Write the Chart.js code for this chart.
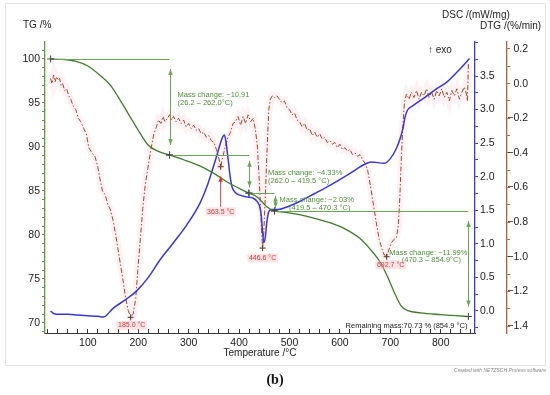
<!DOCTYPE html>
<html>
<head>
<meta charset="utf-8">
<script src="https://cdn.jsdelivr.net/npm/chart.js@4.4.1/dist/chart.umd.min.js"></script>
<style>
  html, body { margin: 0; padding: 0; background: #fff; }
  #wrap { width: 550px; height: 395px; }
</style>
</head>
<body>
<div id="wrap"><canvas id="chart" width="550" height="395"></canvas></div>
<script>
// ==================== DATA ====================
// TG curve (mass %)
const tgTemp = [26.2, 50, 75, 100, 125, 145, 160, 180, 200, 220, 240, 262, 290, 320, 350, 380, 400, 419.5,
  435, 445, 455, 470.3, 490, 520, 550, 580, 610, 640, 660, 680, 695, 710, 722, 735, 760, 800, 830, 854.9];
const tgMass = [100, 99.95, 99.75, 99.2, 98.1, 97.0, 95.7, 93.8, 91.9, 90.2, 89.5, 89.09, 88.55, 87.9, 87.0, 85.9, 85.3, 84.76,
  84.35, 83.8, 83.2, 82.73, 82.6, 82.3, 81.9, 81.4, 80.7, 79.6, 78.4, 76.9, 75.2, 73.2, 71.9, 71.4, 71.15, 70.95, 70.83, 70.73];

// DSC curve (mW/mg)
const dscTemp = [26, 33, 45, 60, 80, 100, 120, 131, 150, 177, 197, 220, 243, 269, 296, 322, 336, 347, 356, 363, 368, 371,
  374, 378, 382, 386, 392, 400, 415, 428, 436, 441, 444, 446.6, 449, 452, 455, 459, 465, 477, 495, 517, 550, 582, 620,
  650, 662, 688, 700, 712, 720, 725, 729, 734, 745, 770, 790, 812, 835, 857];
const dscValue = [0.0, -0.04, -0.05, -0.05, -0.06, -0.07, -0.08, -0.09, 0.04, 0.18, 0.30, 0.50, 0.76, 1.01, 1.28, 1.60, 1.85, 2.10, 2.32, 2.50, 2.60, 2.62,
  2.52, 2.28, 2.02, 1.85, 1.77, 1.73, 1.70, 1.68, 1.63, 1.55, 1.42, 1.18, 1.02, 1.10, 1.32, 1.48, 1.51, 1.51, 1.55, 1.62, 1.75, 1.88, 2.05,
  2.19, 2.22, 2.20, 2.27, 2.42, 2.58, 2.72, 2.88, 2.99, 3.06, 3.19, 3.30, 3.41, 3.58, 3.76];

// DTG curve (%/min)
const dtgTemp = [26, 29, 32, 35, 38, 41, 44, 47, 50, 54, 58, 62, 66, 71, 76, 81, 86, 92, 97, 102, 108, 114, 119, 124, 129,
  134, 140, 145, 150, 155, 160, 165, 170, 175, 180, 185, 190, 195, 199, 204, 209, 214, 219, 225, 231, 236, 240, 245, 249,
  253, 258, 262, 266, 270, 275, 280, 285, 290, 295, 300, 305, 310, 315, 320, 325, 330, 335, 340, 345, 350, 355, 359, 363.5,
  368, 373, 378, 383, 388, 393, 398, 403, 408, 413, 418, 423, 428, 432, 436, 439, 442, 444.5, 446.6, 449, 451, 453, 455,
  457, 459, 462, 466, 470, 475, 480, 485, 490, 495, 500, 505, 510, 515, 520, 525, 530, 535, 540, 545, 550, 555, 560, 565,
  570, 575, 580, 585, 590, 595, 600, 605, 610, 615, 620, 625, 630, 635, 640, 645, 650, 655, 660, 666, 672, 678, 684, 688,
  692.7, 697, 702, 707, 712, 716, 719, 722, 725, 728, 732, 737, 742, 747, 752, 757, 762, 767, 772, 777, 782, 787, 792, 797,
  802, 807, 812, 817, 822, 827, 832, 837, 842, 847, 851, 853, 855];
const dtgRate = [0.03, 0.00, 0.05, 0.01, 0.04, 0.02, 0.03, -0.01, 0.00, -0.04, -0.03, -0.07, -0.09, -0.13, -0.15, -0.20, -0.22, -0.26, -0.29, -0.37, -0.40, -0.42, -0.47, -0.55, -0.62,
  -0.64, -0.70, -0.73, -0.79, -0.87, -0.96, -1.05, -1.14, -1.24, -1.31, -1.35, -1.33, -1.24, -1.08, -0.90, -0.72, -0.58, -0.49, -0.38, -0.29, -0.25, -0.21, -0.23, -0.19,
  -0.22, -0.20, -0.18, -0.21, -0.19, -0.22, -0.20, -0.23, -0.21, -0.25, -0.23, -0.26, -0.24, -0.27, -0.26, -0.29, -0.28, -0.31, -0.30, -0.33, -0.34, -0.38, -0.42, -0.48,
  -0.42, -0.36, -0.31, -0.28, -0.23, -0.22, -0.19, -0.24, -0.19, -0.23, -0.18, -0.22, -0.20, -0.26, -0.35, -0.50, -0.68, -0.85, -0.95, -0.86, -0.72, -0.58, -0.42,
  -0.28, -0.15, -0.09, -0.07, -0.08, -0.07, -0.09, -0.11, -0.10, -0.14, -0.15, -0.18, -0.17, -0.21, -0.22, -0.25, -0.23, -0.27, -0.26, -0.30, -0.28, -0.31, -0.29, -0.32,
  -0.31, -0.34, -0.33, -0.35, -0.34, -0.37, -0.35, -0.38, -0.37, -0.39, -0.38, -0.41, -0.40, -0.42, -0.41, -0.44, -0.46, -0.50, -0.58, -0.69, -0.80, -0.90, -0.96, -0.99,
  -1.00, -0.96, -0.92, -0.90, -0.89, -0.82, -0.65, -0.42, -0.24, -0.11, -0.06, -0.09, -0.05, -0.08, -0.04, -0.09, -0.05, -0.07, -0.03, -0.08, -0.05, -0.09, -0.04, -0.07,
  -0.03, -0.08, -0.05, -0.10, -0.04, -0.07, -0.03, -0.09, -0.05, -0.02, -0.06, -0.10, 0.12];

// axis tick labels
const xTickLabels = [100, 200, 300, 400, 500, 600, 700, 800];
const tgTickLabels = [70, 75, 80, 85, 90, 95, 100];
const dscTickLabels = [0, 0.5, 1.0, 1.5, 2.0, 2.5, 3.0, 3.5];
const dtgTickLabels = [-1.4, -1.2, -1.0, -0.8, -0.6, -0.4, -0.2, 0.0, 0.2];

// mass change steps
const stepStart = [26.2, 262.0, 419.5, 470.3];
const stepEnd = [262.0, 419.5, 470.3, 854.9];
const stepMassStart = [100, 89.09, 84.76, 82.73];
const stepMassEnd = [89.09, 84.76, 82.73, 70.73];
const stepText = ['Mass change: \u221210.91', 'Mass change: \u22124.33%', 'Mass change: \u22122.03%', 'Mass change: \u221211.99%'];
const stepRange = ['(26.2 \u2013 262.0\u00b0C)', '(262.0 \u2013 419.5 \u00b0C)', '(419.5 \u2013 470.3 \u00b0C)', '(470.3 \u2013 854.9\u00b0C)'];

// DTG peaks
const peakTemp = [185.0, 363.5, 446.6, 692.7];
const peakRate = [-1.35, -0.48, -0.95, -1.00];

const remainingMass = 70.73;
const remainingTemp = 854.9;

// ==================== HELPERS ====================
const zip = (xs, ys) => xs.map((x, i) => ({ x: x, y: ys[i] }));
const isIn = (list, v) => list.some(m => Math.abs(m - v) < 1e-6);
const minus = s => s.replace('-', '\u2212');

const green = '#3f7d2c';
const annoGreen = '#6aa558';
const blue = '#3838d4';
const brown = '#9a4a2a';
const peakRed = '#c8403a';

function cross(ctx, x, y, s) {
    ctx.beginPath();
    ctx.moveTo(x - s, y); ctx.lineTo(x + s, y);
    ctx.moveTo(x, y - s); ctx.lineTo(x, y + s);
    ctx.stroke();
}

function arrowHead(ctx, x, y, dir) {
    ctx.beginPath();
    ctx.moveTo(x, y);
    ctx.lineTo(x - 2.2, y - dir * 6);
    ctx.lineTo(x + 2.2, y - dir * 6);
    ctx.closePath();
    ctx.fill();
}

function tag(ctx, text, cx, cy) {
    const w = ctx.measureText(text).width;
    ctx.fillStyle = 'rgba(255,185,195,0.4)';
    ctx.fillRect(cx - w / 2 - 1.5, cy - 4.5, w + 3, 9);
    ctx.fillStyle = peakRed;
    ctx.fillText(text, cx, cy);
}

// label offsets for each step text: [dx, dy of first line, align]
const stepLabelPos = [[8, -12, 'left'], [19, -1, 'left'], [5, -2, 'left'], [-1, -11, 'right']];
// peak label offsets: [dx, dy]
const peakLabelPos = [[1, 8], [0, 45], [0, 10], [4, 8]];

// ==================== ANNOTATIONS ====================
const annotations = {
    id: 'annotations',
    beforeDraw(chart) {
        const ctx = chart.ctx;
        ctx.save();
        ctx.fillStyle = '#fff';
        ctx.fillRect(0, 0, chart.width, chart.height);
        ctx.strokeStyle = '#e4e4e4';
        ctx.lineWidth = 1;
        ctx.strokeRect(5.5, 3.5, 540, 362);
        ctx.restore();
    },
    afterDatasetsDraw(chart) {
        const ctx = chart.ctx;
        const x = chart.scales.x, yTG = chart.scales.yTG, yDTG = chart.scales.yDTG;
        const area = chart.chartArea;
        ctx.save();

        // titles
        ctx.fillStyle = '#222';
        ctx.font = '10px "Liberation Sans", Arial, sans-serif';
        ctx.textBaseline = 'middle';
        ctx.textAlign = 'left';
        ctx.fillText('TG /%', 23, 25);
        ctx.fillText('DSC /(mW/mg)', 442, 15);
        ctx.fillText('DTG /(%/min)', 480, 26);
        ctx.fillText('\u2191 exo', 428, 50);
        ctx.textAlign = 'center';
        ctx.fillText('Temperature /\u00b0C', (area.left + area.right) / 2, area.bottom + 20);

        // mass change steps
        ctx.lineWidth = 1;
        for (let i = 0; i < stepStart.length; i++) {
            const x1 = x.getPixelForValue(stepStart[i]);
            const x2 = x.getPixelForValue(stepEnd[i]);
            const y1 = yTG.getPixelForValue(stepMassStart[i]);
            const y2 = yTG.getPixelForValue(stepMassEnd[i]);
            ctx.strokeStyle = annoGreen;
            ctx.fillStyle = annoGreen;
            ctx.beginPath();
            ctx.moveTo(x1, Math.round(y1) + 0.5);
            ctx.lineTo(x2, Math.round(y1) + 0.5);
            ctx.stroke();
            const inset = Math.min(10, (y2 - y1) * 0.15);
            const ax = Math.round(x2) + 0.5;
            ctx.beginPath();
            ctx.moveTo(ax, y1 + inset);
            ctx.lineTo(ax, y2 - inset);
            ctx.stroke();
            arrowHead(ctx, ax, y1 + inset, -1);
            arrowHead(ctx, ax, y2 - inset, 1);
            ctx.strokeStyle = '#444';
            cross(ctx, x1, y1, 3.5);
            cross(ctx, x2, y2, 3.5);

            const [dx, dy, align] = stepLabelPos[i];
            const mid = (y1 + y2) / 2;
            ctx.font = '7.5px "Liberation Sans", Arial, sans-serif';
            ctx.fillStyle = '#4f8f3a';
            const w1 = ctx.measureText(stepText[i]).width;
            const left = align === 'left' ? x2 + dx : x2 + dx - w1;
            ctx.textAlign = 'left';
            ctx.fillText(stepText[i], left, mid + dy);
            if (i >= 2) {
                ctx.textAlign = 'center';
                ctx.fillText(stepRange[i], left + w1 / 2 + 3, mid + dy + 7.5);
            } else {
                ctx.fillText(stepRange[i], left, mid + dy + 7.5);
            }
        }

        // remaining mass
        ctx.fillStyle = '#222';
        ctx.textAlign = 'right';
        ctx.font = '7.5px "Liberation Sans", Arial, sans-serif';
        ctx.fillText('Remaining mass:' + remainingMass.toFixed(2) + ' % (' + remainingTemp.toFixed(1) + ' \u00b0C)',
            x.getPixelForValue(remainingTemp) - 1, yTG.getPixelForValue(remainingMass) + 9);

        // DTG peaks
        ctx.textAlign = 'center';
        ctx.font = '7px "Liberation Sans", Arial, sans-serif';
        for (let i = 0; i < peakTemp.length; i++) {
            const px = x.getPixelForValue(peakTemp[i]);
            const py = yDTG.getPixelForValue(peakRate[i]);
            const [dx, dy] = peakLabelPos[i];
            ctx.strokeStyle = '#5a3020';
            cross(ctx, px, py, 3);
            if (dy > 20) {
                ctx.strokeStyle = peakRed;
                ctx.fillStyle = peakRed;
                ctx.beginPath();
                ctx.moveTo(px + dx, py + 10);
                ctx.lineTo(px + dx, py + dy - 5);
                ctx.stroke();
                arrowHead(ctx, px + dx, py + 9, -1);
            }
            tag(ctx, peakTemp[i].toFixed(1) + ' \u00b0C', px + dx, py + dy);
        }

        // caption
        ctx.fillStyle = '#111';
        ctx.textAlign = 'center';
        ctx.font = 'bold 14px "Liberation Serif", "Times New Roman", serif';
        ctx.fillText('(b)', 275, 380);
        ctx.fillStyle = '#888';
        ctx.textAlign = 'right';
        ctx.font = 'italic 5px "Liberation Sans", Arial, sans-serif';
        ctx.fillText('Created with NETZSCH Proteus software', 546, 371);
        ctx.restore();
    }
};

// ==================== CHART ====================
Chart.defaults.font.family = '"Liberation Sans", Arial, sans-serif';
Chart.defaults.font.size = 10.5;
Chart.defaults.color = '#222';

const fixSize = (w, h) => scale => {
    if (w) scale.width = w;
    if (h) scale.height = h;
};

new Chart(document.getElementById('chart'), {
    type: 'line',
    data: {
        datasets: [
            { label: 'TG', data: zip(tgTemp, tgMass), yAxisID: 'yTG', borderColor: green, borderWidth: 1.3,
              cubicInterpolationMode: 'monotone', pointRadius: 0, order: 1 },
            { label: 'DSC', data: zip(dscTemp, dscValue), yAxisID: 'yDSC', borderColor: blue, borderWidth: 1.5,
              cubicInterpolationMode: 'monotone', pointRadius: 0, order: 2 },
            { label: 'DTG', data: zip(dtgTemp, dtgRate), yAxisID: 'yDTG', borderColor: brown, borderWidth: 1,
              borderDash: [5, 2, 1.5, 2], tension: 0, pointRadius: 0, order: 3 },
            { label: 'DTG band', data: zip(dtgTemp, dtgRate), yAxisID: 'yDTG', borderColor: 'rgba(255,180,195,0.18)',
              borderWidth: 7, tension: 0, pointRadius: 0, order: 9 }
        ]
    },
    options: {
        responsive: false,
        animation: false,
        devicePixelRatio: 1,
        layout: { padding: { left: 5, right: 22, top: 42, bottom: 29 } },
        plugins: { legend: { display: false }, tooltip: { enabled: false } },
        scales: {
            x: {
                type: 'linear', position: 'bottom', min: 15, max: 868,
                afterFit: fixSize(null, 33),
                border: { color: '#333', width: 1 },
                grid: { drawOnChartArea: false, tickLength: -4, color: '#333' },
                ticks: { stepSize: 20, includeBounds: false, autoSkip: false, maxRotation: 0, padding: 8,
                         callback: v => isIn(xTickLabels, v) ? String(Math.round(v)) : '' }
            },
            yTG: {
                type: 'linear', position: 'left', min: 68.86, max: 101.93,
                afterFit: fixSize(40, null),
                border: { color: '#5e9a45', width: 1.3 },
                grid: { drawOnChartArea: false, tickLength: 3, color: '#5e9a45' },
                ticks: { stepSize: 1, includeBounds: false, autoSkip: false, padding: 2,
                         callback: v => isIn(tgTickLabels, v) ? String(Math.round(v)) : '' }
            },
            yDSC: {
                type: 'linear', position: 'right', weight: 0, min: -0.328, max: 4.007,
                afterFit: fixSize(32, null),
                border: { color: blue, width: 1.3 },
                grid: { drawOnChartArea: false, tickLength: 3, color: blue },
                ticks: { stepSize: 0.25, includeBounds: false, autoSkip: false, padding: 2,
                         callback: v => isIn(dscTickLabels, v) ? (Math.abs(v) < 1e-9 ? '0.0' : v.toFixed(1)) : '' }
            },
            yDTG: {
                type: 'linear', position: 'right', weight: 1, min: -1.4404, max: 0.2404,
                afterFit: fixSize(21, null),
                border: { color: '#b0603a', width: 1.3 },
                grid: { drawOnChartArea: false, tickLength: 3, color: '#b0603a' },
                ticks: { stepSize: 0.1, includeBounds: false, autoSkip: false, padding: 1, crossAlign: 'far',
                         callback: v => isIn(dtgTickLabels, v) ? (Math.abs(v) < 1e-9 ? '0.0' : minus(v.toFixed(1))) : '' }
            }
        }
    },
    plugins: [annotations]
});
</script>
</body>
</html>
